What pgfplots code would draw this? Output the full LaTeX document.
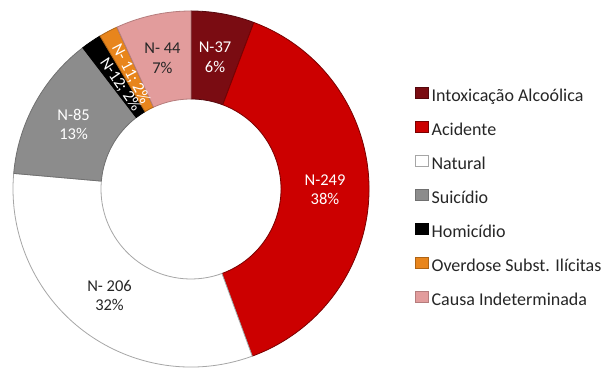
\documentclass[border=0pt]{standalone}
\usepackage{pgfplots}
\pgfplotsset{compat=1.18}
\usepackage{fontspec}
\setmainfont{Carlito}
\definecolor{cIntox}{HTML}{7A0C12}
\definecolor{cAcid}{HTML}{CC0000}
\definecolor{cNat}{HTML}{FFFFFF}
\definecolor{cSuic}{HTML}{8C8C8C}
\definecolor{cHom}{HTML}{000000}
\definecolor{cOver}{HTML}{E8851C}
\definecolor{cInd}{HTML}{E29C9C}
\definecolor{tdark}{HTML}{262626}
\begin{document}
\begin{tikzpicture}
\begin{axis}[
  x=1pt, y=1pt, xmin=0, xmax=604, ymin=0, ymax=367,
  hide axis, clip=false,
  legend style={at={(axis cs:415,280.5)}, anchor=north west, draw=none, fill=none,
     inner sep=0pt, row sep=15.4pt, column sep=3pt,
     font=\fontsize{18}{20}\selectfont, text=tdark,
     nodes={inner sep=0pt, text height=13pt, text depth=4pt}},
  legend cell align=left,
  legend image code/.code={\path[#1] (0pt,-1pt) rectangle (13pt,10pt);},
]
\path (axis cs:0,0) rectangle (axis cs:604,367);
\def\cx{191}\def\cy{178}\def\R{178}\def\r{90}\def\tot{644}
\xdef\angA{90}
\foreach \v/\col/\edge in {37/cIntox/cIntox!70!black, 249/cAcid/cAcid!60!black, 206/cNat/black!35, 85/cSuic/cSuic!80!black, 12/cHom/black, 11/cOver/cOver!75!black, 44/cInd/cInd!80!black} {
  \pgfmathsetmacro\angB{\angA-\v/\tot*360}
  \pgfmathsetmacro\xa{\cx+\R*cos(\angA)}
  \pgfmathsetmacro\ya{\cy+\R*sin(\angA)}
  \pgfmathsetmacro\xb{\cx+\r*cos(\angB)}
  \pgfmathsetmacro\yb{\cy+\r*sin(\angB)}
  \edef\temp{\noexpand\path[fill=\col, draw=\edge, line width=0.8pt, line join=round] (axis cs:\xa,\ya) arc[start angle=\angA, end angle=\angB, radius=\R pt] -- (axis cs:\xb,\yb) arc[start angle=\angB, end angle=\angA, radius=\r pt] -- cycle;}
  \temp
  \xdef\angA{\angB}
}
\xdef\angA{90}
\foreach \v/\tc/\lab/\rot/\rad in {37/white/{N-37\\6\%}/0/134, 249/white/{N-249\\38\%}/0/134, 206/tdark/{N-\ 206\\32\%}/0/134, 85/white/{N-85\\13\%}/0/134, 12/white/{N-12; 2\%}/1/126, 11/white/{N-\ 11; 2\%}/1/130, 44/tdark/{N-\ 44\\7\%}/0/134} {
  \pgfmathsetmacro\angB{\angA-\v/\tot*360}
  \pgfmathsetmacro\angM{(\angA+\angB)/2}
  \pgfmathsetmacro\xm{\cx+\rad*cos(\angM)}
  \pgfmathsetmacro\ym{\cy+\rad*sin(\angM)}
  \pgfmathsetmacro\rr{\rot*(\angM-180)}
  \edef\temp{\noexpand\node[text=\tc, align=center, font=\noexpand\fontsize{16.5}{19.5}\noexpand\selectfont, rotate=\rr] at (axis cs:\xm,\ym) {\unexpanded\expandafter{\lab}};}
  \temp
  \xdef\angA{\angB}
}
\addlegendimage{fill=cIntox, draw=cIntox!70!black}
\addlegendentry{Intoxicação Alcoólica}
\addlegendimage{fill=cAcid, draw=cAcid!60!black}
\addlegendentry{Acidente}
\addlegendimage{fill=white, draw=black!35}
\addlegendentry{Natural}
\addlegendimage{fill=cSuic, draw=cSuic!80!black}
\addlegendentry{Suicídio}
\addlegendimage{fill=cHom, draw=black}
\addlegendentry{Homicídio}
\addlegendimage{fill=cOver, draw=cOver!75!black}
\addlegendentry{Overdose Subst. Ilícitas}
\addlegendimage{fill=cInd, draw=cInd!80!black}
\addlegendentry{Causa Indeterminada}
\end{axis}
\end{tikzpicture}
\end{document}
